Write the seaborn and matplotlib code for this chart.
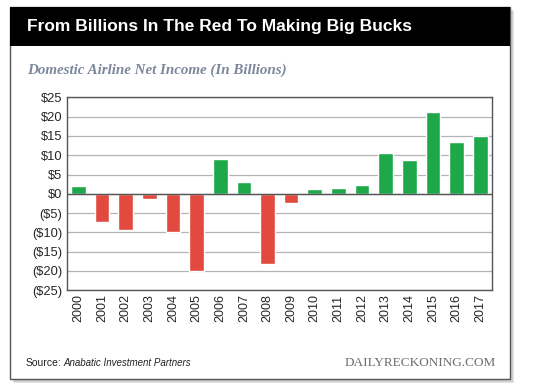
import seaborn as sns
import matplotlib.pyplot as plt
import matplotlib.patches as patches
import pandas as pd

# Domestic airline net income, billions of dollars
years = [str(y) for y in range(2000, 2018)]
income = [2.0, -7.4, -9.5, -1.4, -9.9, -20.0, 9.0, 3.0, -18.2, -2.3,
          1.3, 1.5, 2.3, 10.5, 8.7, 21.2, 13.4, 15.0]
ytick_vals = [25, 20, 15, 10, 5, 0, -5, -10, -15, -20, -25]
ytick_labels = ['$25', '$20', '$15', '$10', '$5', '$0',
                '($5)', '($10)', '($15)', '($20)', '($25)']

data = pd.DataFrame({'year': years, 'income': income})
data['sign'] = ['pos' if v >= 0 else 'neg' for v in income]

sns.set_style('white')
plt.rcParams['font.family'] = ['Liberation Sans', 'DejaVu Sans']

W, H = 540, 389
fig = plt.figure(figsize=(W / 100, H / 100), dpi=100)
fig.patch.set_facecolor('white')

def fx(px):
    return px / W

def fy(py):
    return 1 - py / H

# shadow + frame
for off, col in [(4, '#e4e4e4'), (2.5, '#cfcfcf'), (1.2, '#b5b5b5')]:
    fig.add_artist(patches.Rectangle((fx(10 + off), fy(379 + off)), fx(500), 372 / H,
                                     transform=fig.transFigure, facecolor=col,
                                     edgecolor='none', zorder=0))
fig.add_artist(patches.Rectangle((fx(10), fy(379)), fx(500), 372 / H,
                                 transform=fig.transFigure, facecolor='white',
                                 edgecolor='#555555', linewidth=1, zorder=1))
# black title band
fig.add_artist(patches.Rectangle((fx(10), fy(46)), fx(500), 39 / H,
                                 transform=fig.transFigure, facecolor='black',
                                 edgecolor='none', zorder=2))

fig.text(fx(27), fy(27), 'From Billions In The Red To Making Big Bucks',
         color='white', fontsize=12.5, fontweight='bold', va='center', ha='left', zorder=3)
fig.text(fx(27), fy(70), 'Domestic Airline Net Income (In Billions)',
         color='#7d879b', fontsize=10.8, fontweight='bold', style='italic',
         family='Liberation Serif', va='center', ha='left', zorder=3)

ax = fig.add_axes([fx(66.7), fy(290.3), fx(492 - 66.7), (290.3 - 97.3) / H])
ax.set_zorder(3)

sns.barplot(data=data, x='year', y='income', hue='sign',
            palette={'pos': '#1fa84a', 'neg': '#e24a3f'}, saturation=1,
            dodge=False, width=0.62, legend=False, ax=ax, zorder=3)

ax.set_ylim(-25, 25)
ax.set_xlim(-0.5, len(years) - 0.5)
ax.set_yticks(ytick_vals)
ax.set_yticklabels(ytick_labels, fontsize=9.3)
ax.tick_params(axis='x', labelrotation=90, labelsize=9, length=0, pad=3)
ax.tick_params(axis='y', length=0, pad=3)
ax.yaxis.grid(True, color='#b4b4b4', linewidth=0.9, zorder=0)
ax.set_axisbelow(True)
ax.axhline(0, color='#555555', linewidth=1, zorder=4)
for s in ax.spines.values():
    s.set_color('#555555')
    s.set_linewidth(1)
ax.set_xlabel('')
ax.set_ylabel('')

fig.text(fx(26), fy(363), 'Source:', fontsize=7.5, color='#222222', va='center', ha='left', zorder=3)
fig.text(fx(63), fy(363), 'Anabatic Investment Partners', fontsize=7, style='italic',
         color='#222222', va='center', ha='left', zorder=3)
fig.text(fx(496), fy(363), 'DAILYRECKONING.COM', fontsize=9.5, family='Liberation Serif',
         color='#6d6d6d', va='center', ha='right', zorder=3)

fig.savefig('out.png', dpi=100)
